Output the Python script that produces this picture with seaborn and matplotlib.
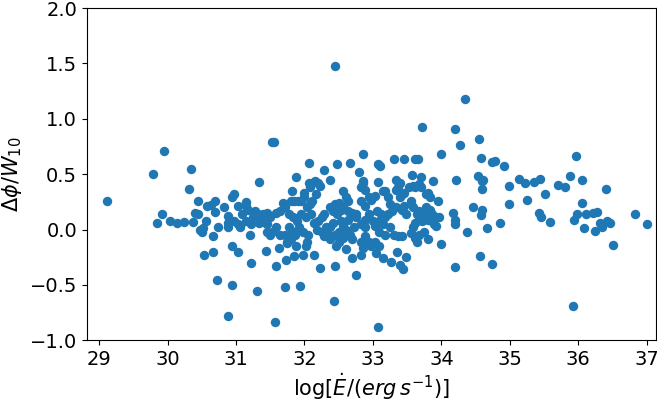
import numpy as np
import pandas as pd
import seaborn as sns
import matplotlib
matplotlib.use('Agg')
import matplotlib.pyplot as plt

# spin-down luminosity log(Edot) and normalised phase offset
log_edot = [
    29.11, 29.79, 29.95, 29.84, 29.92, 30.03, 30.14, 30.24, 30.34, 30.32,
    30.37, 30.44, 30.40, 30.45, 30.47, 30.50, 30.52, 30.56, 30.58, 30.63,
    30.70, 30.70, 30.67, 30.54, 30.67, 30.72, 30.74, 30.83, 30.88, 30.94,
    30.97, 30.94, 31.03, 30.94, 30.88, 30.89, 30.89, 31.06, 31.03, 31.14,
    31.14, 31.20, 31.22, 31.30, 31.34, 31.25, 31.32, 31.44, 31.44, 31.49,
    31.52, 31.55, 31.57, 31.58, 31.63, 31.68, 31.71, 31.73, 31.74, 31.82,
    31.87, 31.85, 31.87, 31.93, 31.98, 32.00, 32.07, 32.04, 32.14, 32.23,
    32.29, 32.38, 32.43, 32.44, 32.45, 32.48, 32.46, 32.67, 32.61, 32.69,
    32.75, 32.79, 32.86, 32.82, 32.85, 33.07, 33.08, 33.10, 33.08, 33.04,
    33.14, 33.27, 33.31, 33.34, 33.35, 33.40, 33.44, 33.45, 33.49, 33.57,
    33.62, 33.66, 33.71, 33.70, 33.80, 33.88, 33.95, 34.00, 34.00, 33.92,
    33.97, 34.17, 34.20, 34.20, 34.20, 34.20, 34.22, 34.27, 34.35, 34.37,
    34.46, 34.55, 34.57, 34.58, 34.54, 34.59, 34.61, 34.60, 34.58, 34.60,
    34.66, 34.74, 34.79, 34.74, 34.86, 34.91, 34.99, 34.99, 35.14, 35.22,
    35.25, 35.36, 35.44, 35.42, 35.46, 35.51, 35.59, 35.71, 35.80, 35.88,
    35.92, 35.93, 35.98, 35.97, 36.05, 36.05, 36.08, 36.11, 36.21, 36.25,
    36.28, 36.31, 36.34, 36.40, 36.42, 36.46, 36.50, 36.83, 37.00,
    # dense middle cluster
    31.09, 31.18, 31.28, 31.37, 31.15, 31.22, 30.97, 31.03, 31.40, 31.46,
    31.49, 31.34, 31.06,
    31.58, 31.65, 31.71, 31.77, 31.83, 31.89, 31.80, 31.85, 31.90, 31.77,
    31.83, 31.92, 31.98, 31.71, 31.80, 31.74, 31.65, 31.52, 31.58, 31.46,
    31.46, 31.86, 31.95, 32.02, 32.03, 32.08, 32.11, 32.06, 32.11, 32.20,
    32.23, 32.15, 32.08, 32.17, 32.09, 32.14, 32.20, 32.25, 32.29, 32.19,
    32.26, 32.32, 32.35, 32.29, 32.05, 32.02, 31.95, 32.00,
    32.38, 32.45, 32.51, 32.42, 32.48, 32.54, 32.57, 32.63, 32.69, 32.75,
    32.54, 32.57, 32.60, 32.63, 32.51, 32.42, 32.38, 32.45, 32.38, 32.51,
    32.57, 32.66, 32.69, 32.82, 32.88, 32.94, 32.97, 32.85, 32.57, 32.60,
    32.63, 32.83, 32.88, 32.94, 32.97, 33.03, 32.82, 32.85, 32.88, 32.75,
    32.82, 32.88, 32.94, 33.00, 33.03, 32.88, 32.72,
    33.06, 33.12, 33.09, 33.18, 33.22, 33.15, 33.25, 33.31, 33.37, 33.43,
    33.09, 33.18, 33.03, 33.09, 33.22, 33.25, 33.18, 33.15, 33.28, 33.34,
    33.40, 33.43, 33.46, 33.46, 33.43, 33.49, 33.52, 33.58, 33.62, 33.55,
    33.58, 33.65, 33.68, 33.62, 33.58, 33.55, 33.62, 33.65, 33.68, 33.74,
    33.71, 33.74, 33.68, 33.77, 33.80, 33.83, 33.77, 33.83, 33.86, 33.80,
    33.86, 33.92, 33.89, 33.68, 33.70, 33.34, 33.37, 33.40,
]
dphi_w10 = [
    0.26, 0.50, 0.71, 0.06, 0.14, 0.08, 0.06, 0.07, 0.55, 0.37,
    0.07, 0.26, 0.15, 0.14, 0.00, -0.02, 0.01, 0.08, 0.21, 0.22,
    0.26, 0.16, -0.06, -0.23, -0.20, -0.46, 0.02, 0.20, 0.12, 0.29,
    0.32, -0.15, -0.20, -0.50, -0.78, 0.06, 0.02, 0.02, 0.21, 0.25,
    0.21, -0.05, -0.30, -0.56, 0.43, 0.11, 0.14, -0.19, 0.06, -0.05,
    0.79, 0.79, -0.84, -0.33, -0.17, 0.24, -0.52, -0.28, -0.11, 0.35,
    0.47, -0.24, -0.15, -0.51, -0.23, 0.33, 0.60, -0.11, -0.23, -0.35,
    0.54, 0.45, -0.65, 1.48, -0.33, 0.59, -0.15, 0.60, -0.18, -0.26,
    -0.41, 0.52, 0.68, -0.23, 0.42, -0.88, 0.59, 0.57, 0.43, -0.21,
    -0.26, -0.29, 0.64, 0.45, -0.20, -0.32, -0.36, 0.64, -0.25, 0.49,
    0.64, 0.64, 0.93, 0.47, -0.09, 0.44, 0.26, 0.68, -0.13, 0.03,
    0.11, 0.15, 0.09, 0.05, 0.91, -0.34, 0.45, 0.76, 1.18, -0.02,
    0.20, 0.82, -0.24, 0.65, 0.48, 0.44, 0.45, 0.37, 0.13, 0.18,
    0.01, 0.61, 0.62, -0.31, 0.06, 0.57, 0.39, 0.23, 0.46, 0.42,
    0.27, 0.43, 0.46, 0.15, 0.11, 0.32, 0.07, 0.40, 0.38, 0.48,
    -0.69, 0.09, 0.14, 0.66, 0.45, 0.24, 0.01, 0.14, 0.15, -0.01,
    0.16, 0.06, 0.02, 0.37, 0.08, 0.06, -0.14, 0.14, 0.05,
    # dense middle cluster
    0.14, 0.18, 0.17, 0.09, 0.08, 0.05, 0.08, 0.05, 0.14, 0.15,
    0.11, 0.06, 0.03,
    0.15, 0.17, 0.20, 0.14, 0.11, 0.08, 0.26, 0.26, 0.26, 0.02,
    -0.02, 0.02, -0.02, -0.05, -0.09, -0.12, -0.05, -0.02, 0.02, 0.05,
    -0.02, -0.05, 0.14, 0.11, 0.20, 0.23, 0.26, 0.42, 0.42, 0.42,
    0.39, 0.44, 0.38, 0.32, 0.14, 0.06, 0.08, 0.11, 0.14, 0.00,
    -0.02, 0.02, -0.05, -0.06, -0.05, -0.15, 0.26, 0.29,
    0.20, 0.23, 0.24, 0.17, 0.14, 0.18, 0.21, 0.17, 0.15, 0.14,
    0.08, 0.03, 0.00, 0.09, -0.02, 0.06, 0.02, -0.05, -0.09, -0.11,
    -0.08, -0.05, -0.09, -0.11, -0.06, -0.11, -0.15, -0.17, 0.35, 0.29,
    0.26, 0.26, 0.21, 0.29, 0.27, 0.30, 0.38, 0.44, 0.36, 0.11,
    0.05, 0.09, 0.14, 0.08, 0.03, 0.02, 0.02,
    0.17, 0.14, 0.08, 0.11, 0.14, 0.05, 0.02, -0.05, -0.06, -0.06,
    -0.02, -0.05, -0.11, -0.15, 0.29, 0.23, 0.35, 0.35, 0.17, 0.20,
    0.29, 0.32, 0.33, 0.21, 0.18, 0.14, 0.38, 0.39, 0.38, 0.26,
    0.20, 0.14, 0.11, 0.06, 0.02, -0.03, -0.08, -0.11, -0.05, -0.02,
    0.08, 0.14, 0.17, 0.32, 0.33, 0.29, 0.20, 0.18, 0.14, 0.09,
    0.08, 0.11, 0.05, 0.41, 0.38, 0.36, 0.38, 0.42,
]

df = pd.DataFrame({'logE': log_edot, 'dphi': dphi_w10})

fig = plt.figure(figsize=(6.57, 4.05), dpi=100)
ax = fig.add_axes([0.132, 0.160, 0.866, 0.820])
sns.scatterplot(data=df, x='logE', y='dphi', ax=ax, color='#1f77b4',
                s=46, linewidth=0)
ax.set_xlim(28.82, 37.13)
ax.set_ylim(-1.0, 2.0)
ax.set_xticks(range(29, 38))
ax.set_yticks([-1.0, -0.5, 0.0, 0.5, 1.0, 1.5, 2.0])
ax.tick_params(labelsize=14)
ax.set_xlabel(r'$\log[\dot{E}/(erg\,s^{-1})]$', fontsize=15, labelpad=2)
ax.set_ylabel(r'$\Delta\phi/W_{10}$', fontsize=15)
fig.savefig('out.png', dpi=100)
